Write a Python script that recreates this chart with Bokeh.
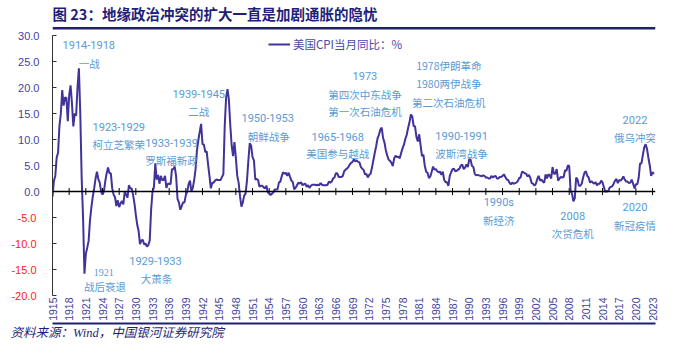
import math
from bokeh.plotting import figure
from bokeh.layouts import column
from bokeh.core.properties import value
from bokeh.models import (Range1d, FixedTicker, Span, Label, LabelSet, ColumnDataSource,
                          BoxAnnotation, CustomJSTickFormatter, LinearAxis, Title)
from bokeh.embed import file_html
from bokeh.resources import INLINE

# ---------------- data (quarterly samples) ----------------
title_text = "图 23：地缘政治冲突的扩大一直是加剧通胀的隐忧"
source_text = "资料来源：Wind，中国银河证券研究院"
series_name = "美国CPI当月同比：%"

first_year = 1915
first_month = 9          # series starts Sep 1915, one sample every 3 months
cpi_yoy = [
    -1.0, 2.0,                       # 1915
    3.0, 6.5, 7.5, 12.6,             # 1916
    15.0, 19.5, 16.5, 18.1,          # 1917
    18.0, 13.5, 18.5, 20.4,          # 1918
    17.0, 12.5, 15.0, 14.6,          # 1919
    20.0, 23.7, 15.0, 2.6,           # 1920
    -5.0, -15.8, -12.0, -10.8,       # 1921
    -9.5, -5.5, -3.0, -1.0,          # 1922
    0.6, 2.5, 3.8, 2.4,              # 1923
    1.7, 0.0, -0.6, 0.0,             # 1924
    2.0, 3.5, 4.6, 3.5,              # 1925
    3.5, 0.6, -0.6, -1.1,            # 1926
    -2.8, -1.7, -3.0, -2.3,          # 1927
    -1.8, -2.5, 0.0, -0.6,           # 1928
    -1.2, 1.2, 0.6, 0.6,             # 1929
    -0.6, -2.3, -4.5, -6.4,          # 1930
    -7.6, -10.1, -9.4, -9.3,         # 1931
    -10.2, -10.0, -10.6, -10.3,      # 1932
    -9.4, -3.5, 0.0, 0.8,            # 1933
    5.4, 2.3, 3.2, 1.5,              # 1934
    3.0, 2.2, 2.2, 3.0,              # 1935
    0.7, 1.5, 1.5, 1.4,              # 1936
    4.3, 4.3, 4.8, 2.9,              # 1937
    -1.4, -2.1, -3.5, -2.8,          # 1938
    -2.1, -2.1, -0.7, 0.0,           # 1939
    1.4, 2.1, 0.0, 0.7,              # 1940
    2.2, 4.3, 7.9, 9.9,              # 1941
    11.5, 13.0, 9.1, 9.0,            # 1942
    7.6, 7.7, 5.2, 3.0,              # 1943
    0.6, 1.7, 1.7, 2.1,              # 1944
    2.3, 2.2, 2.2, 2.2,              # 1945
    2.8, 3.3, 12.7, 18.1,            # 1946
    19.7, 17.6, 12.7, 8.8,           # 1947
    6.8, 9.5, 6.5, 3.0,              # 1948
    1.7, -0.9, -2.9, -2.1,           # 1949
    -0.8, -0.4, 2.1, 5.9,            # 1950
    9.3, 8.8, 6.6, 6.0,              # 1951
    2.3, 2.4, 2.2, 0.9,              # 1952
    1.1, 1.1, 0.8, 0.6,              # 1953
    1.1, -0.2, -0.3, -0.7,           # 1954
    -0.4, -0.2, 0.4, 0.4,            # 1955
    0.4, 1.7, 1.9, 2.9,              # 1956
    3.7, 3.4, 3.6, 3.0,              # 1957
    3.6, 2.8, 2.1, 1.8,              # 1958
    0.4, 0.7, 1.2, 1.7,              # 1959
    1.5, 1.8, 1.2, 1.4,              # 1960
    1.5, 0.9, 1.2, 0.7,              # 1961
    1.1, 1.3, 1.3, 1.3,              # 1962
    1.2, 1.3, 1.2, 1.6,              # 1963
    1.3, 1.2, 1.2, 1.2,              # 1964
    1.3, 1.9, 1.7, 1.9,              # 1965
    2.5, 2.7, 3.5, 3.5,              # 1966
    2.8, 2.8, 2.8, 3.0,              # 1967
    3.9, 4.2, 4.4, 4.7,              # 1968
    5.2, 5.5, 5.7, 6.2,              # 1969
    5.8, 6.0, 5.7, 5.6,              # 1970
    4.7, 4.4, 4.1, 3.3,              # 1971
    3.4, 2.7, 3.2, 3.4,              # 1972
    4.6, 6.0, 7.4, 8.7,              # 1973
    10.2, 10.9, 11.9, 12.3,          # 1974
    10.3, 9.4, 7.9, 6.9,             # 1975
    6.1, 5.9, 5.5, 4.9,              # 1976
    6.4, 6.9, 6.6, 6.7,              # 1977
    6.4, 7.4, 8.3, 9.0,              # 1978
    10.1, 10.9, 12.2, 13.3,          # 1979
    14.8, 14.4, 12.6, 12.5,          # 1980
    10.5, 9.6, 11.0, 8.9,            # 1981
    6.8, 7.1, 5.0, 3.8,              # 1982
    3.6, 2.6, 2.9, 3.8,              # 1983
    4.8, 4.2, 4.3, 3.9,              # 1984
    3.7, 3.8, 3.2, 3.8,              # 1985
    2.2, 1.8, 1.8, 1.1,              # 1986
    3.0, 3.7, 4.3, 4.4,              # 1987
    3.9, 4.0, 4.2, 4.4,              # 1988
    5.0, 5.2, 4.3, 4.6,              # 1989
    5.2, 4.7, 6.2, 6.1,              # 1990
    4.9, 4.7, 3.4, 3.1,              # 1991
    3.2, 3.1, 3.0, 2.9,              # 1992
    3.1, 3.0, 2.7, 2.7,              # 1993
    2.5, 2.5, 3.0, 2.7,              # 1994
    2.9, 3.0, 2.5, 2.5,              # 1995
    2.8, 2.8, 3.0, 3.3,              # 1996
    2.8, 2.3, 2.2, 1.7,              # 1997
    1.4, 1.7, 1.5, 1.6,              # 1998
    1.7, 2.0, 2.6, 2.7,              # 1999
    3.8, 3.7, 3.5, 3.4,              # 2000
    2.9, 3.2, 2.6, 1.6,              # 2001
    1.5, 1.1, 1.5, 2.4,              # 2002
    3.0, 2.1, 2.3, 1.9,              # 2003
    1.7, 3.3, 2.5, 3.3,              # 2004
    3.1, 2.5, 4.7, 3.4,              # 2005
    3.4, 4.3, 2.1, 2.5,              # 2006
    2.8, 2.7, 2.8, 4.1,              # 2007
    4.0, 5.0, 4.9, 0.1,              # 2008
    -0.4, -1.9, -1.3, 2.7,           # 2009
    2.3, 1.1, 1.1, 1.5,              # 2010
    2.7, 3.6, 3.9, 3.0,              # 2011
    2.7, 1.7, 2.0, 1.7,              # 2012
    1.5, 1.8, 1.2, 1.5,              # 2013
    1.5, 2.1, 1.7, 0.8,              # 2014
    -0.1, 0.1, 0.0, 0.7,             # 2015
    0.9, 1.0, 1.5, 2.1,              # 2016
    2.4, 1.6, 2.2, 2.1,              # 2017
    2.4, 2.9, 2.3, 1.9,              # 2018
    1.9, 1.6, 1.7, 2.3,              # 2019
    1.5, 0.6, 1.4, 1.4,              # 2020
    2.6, 5.4, 5.4, 7.0,              # 2021
    8.5, 9.1, 8.2, 6.5,              # 2022
    5.0, 3.0, 3.7, 3.4,              # 2023
]

tick_years = list(range(1915, 2024, 3))
y_ticks = [-20, -15, -10, -5, 0, 5, 10, 15, 20, 25, 30]

# event annotations: text, year position, value position
note_texts = ["1914-1918", "一战", "1923-1929", "柯立芝繁荣", "1933-1939", "罗斯福新政",
              "1939-1945", "二战", "1950-1953", "朝鲜战争", "战后衰退",
              "1929-1933", "大萧条", "1965-1968", "美国参与越战",
              "1973", "第四次中东战争", "第一次石油危机",
              "1978伊朗革命", "1980两伊战争", "第二次石油危机",
              "1990-1991", "波斯湾战争", "2022", "俄乌冲突",
              "1990s", "新经济", "2008", "次贷危机", "2020", "新冠疫情"]
note_x = [1922.2, 1922.3, 1927.6, 1927.6, 1937.1, 1937.1,
          1942.0, 1942.0, 1954.4, 1954.6, 1925.1,
          1934.2, 1934.4, 1967.0, 1967.0,
          1971.9, 1971.9, 1971.9,
          1987.0, 1987.0, 1987.0,
          1989.3, 1989.3, 2020.5, 2020.5,
          1996.0, 1996.0, 2009.3, 2009.3, 2020.5, 2020.5]
note_y = [28.1, 24.6, 12.5, 9.0, 9.4, 6.0,
          18.7, 15.3, 14.2, 10.5, -18.3,
          -13.3, -16.8, 10.5, 7.3,
          22.2, 18.7, 15.3,
          24.3, 20.8, 17.2,
          10.7, 7.3, 13.7, 10.3,
          -2.1, -5.5, -4.7, -8.0, -3.0, -6.6]
serif_note = ("1921", 1924.9, -15.6)

# ---------------- styles ----------------
W = 664
NAVY = "#1f1f78"
AXBLUE = "#3f3fa0"
NOTE = "#5b9bd5"

# ---- title strip ----
TH = 30
ft = figure(width=W, height=TH, output_backend="svg", toolbar_location=None,
            x_range=Range1d(0, W), y_range=Range1d(0, TH),
            x_axis_location=None, y_axis_location=None,
            min_border_left=0, min_border_right=0, min_border_top=0, min_border_bottom=0,
            outline_line_color=None, background_fill_color="white", border_fill_color="white")
ft.grid.visible = False
ft.add_layout(Label(x=0, y=TH - 12.5, text=title_text, text_baseline="middle",
                    text_font="Noto Sans CJK SC", text_font_style="bold",
                    text_font_size="14.5px", text_color=NAVY))
ft.add_layout(BoxAnnotation(top=TH - 26.5, bottom=TH - 29.0, fill_color=NAVY, fill_alpha=1,
                            line_color=None))

# ---- main chart ----
xs = []
for i in range(len(cpi_yoy)):
    m = first_month - 1 + 3 * i
    xs.append(first_year + (m // 12) + (m % 12) / 12.0)

X0 = first_year + (first_month - 1) / 12.0
MH = 339 - TH
p = figure(width=W, height=MH, output_backend="svg", toolbar_location=None,
           x_range=Range1d(X0, X0 + 108.53), y_range=Range1d(-20, 30),
           min_border_left=52, min_border_right=9, min_border_top=5, min_border_bottom=42,
           outline_line_color=None, background_fill_color="white", border_fill_color="white")
p.grid.visible = False

xa = p.xaxis[0]
xa.ticker = FixedTicker(ticks=[y + (first_month - 1) / 12.0 for y in tick_years])
xa.formatter = CustomJSTickFormatter(code="return Math.floor(tick + 0.01).toString()")
xa.axis_line_color = None
xa.major_tick_line_color = None
xa.minor_tick_line_color = None
xa.major_tick_in = 0
xa.major_tick_out = 0
xa.minor_tick_out = 0
xa.major_label_orientation = math.pi / 2
xa.major_label_standoff = 2
xa.major_label_text_font = "Liberation Sans"
xa.major_label_text_font_size = "10.5px"
xa.major_label_text_color = AXBLUE

# rule under the axis labels (an extra, label-less axis line)
rule = LinearAxis(ticker=FixedTicker(ticks=[]), axis_line_color=NAVY, axis_line_width=2,
                  major_tick_line_color=None, minor_tick_line_color=None,
                  major_tick_in=0, major_tick_out=0, minor_tick_in=0, minor_tick_out=0,
                  major_label_standoff=0, major_label_text_font_size="0px")
p.add_layout(rule, "below")

# source line
p.add_layout(Title(text=source_text, align="left", offset=-42, standoff=0,
                   text_font="'Liberation Serif', 'Noto Sans CJK SC'", text_font_style="italic",
                   text_font_size="12.5px", text_color=NAVY), "below")

# inner y axis: line, ticks and the positive labels (blue)
ya = p.yaxis[0]
ya.ticker = FixedTicker(ticks=y_ticks)
ya.formatter = CustomJSTickFormatter(code="return tick < 0 ? '' : tick.toFixed(1)")
ya.minor_tick_line_color = None
ya.major_tick_in = 4
ya.major_tick_out = 0
ya.major_tick_line_color = "#333333"
ya.axis_line_color = "#333333"
ya.axis_line_width = 1
ya.major_label_standoff = 13
ya.major_label_text_font = "Liberation Sans"
ya.major_label_text_font_size = "11px"
ya.major_label_text_color = AXBLUE

# outer y axis: only the negative labels (red), pulled back under the blue ones
yneg = LinearAxis(ticker=FixedTicker(ticks=y_ticks),
                  formatter=CustomJSTickFormatter(code="return tick < 0 ? tick.toFixed(1) : ''"),
                  axis_line_color=None, major_tick_line_color=None, minor_tick_line_color=None,
                  major_tick_in=0, major_tick_out=0, major_label_standoff=-21,
                  major_label_text_font="Liberation Sans", major_label_text_font_size="11px",
                  major_label_text_color="#ff2020")
p.add_layout(yneg, "left")

# zero line with its ticks
p.add_layout(Span(location=0, dimension="width", line_color="black", line_width=1.5))
p.scatter(x=[y + (first_month - 1) / 12.0 for y in tick_years], y=[0] * len(tick_years),
          marker="dash", angle=math.pi / 2, size=7, line_color="black", line_width=1)

# series
p.line(xs, cpi_yoy, line_color="#40339a", line_width=2, legend_label=series_name)
lg = p.legend[0]
lg.location = (216, 243)
lg.padding = 0
lg.margin = 0
lg.border_line_color = None
lg.background_fill_alpha = 0
lg.glyph_width = 22
lg.glyph_height = 14
lg.label_height = 14
lg.label_standoff = 3
lg.label_text_font = "Noto Sans CJK SC"
lg.label_text_font_size = "11.5px"
lg.label_text_color = "#4a4aa8"

# annotations: numeric ones in a Latin sans, the others in the CJK sans
is_num = [all(ord(c) < 128 for c in t) for t in note_texts]
num_src = ColumnDataSource(dict(x=[x for x, n in zip(note_x, is_num) if n],
                                y=[y for y, n in zip(note_y, is_num) if n],
                                t=[t for t, n in zip(note_texts, is_num) if n]))
cjk_src = ColumnDataSource(dict(x=[x for x, n in zip(note_x, is_num) if not n],
                                y=[y for y, n in zip(note_y, is_num) if not n],
                                t=[t for t, n in zip(note_texts, is_num) if not n]))
p.add_layout(LabelSet(x="x", y="y", text="t", source=num_src, text_align="center",
                      text_baseline="middle", text_font=value("Roboto"),
                      text_font_size=value("11px"), text_color=value(NOTE)))
p.add_layout(LabelSet(x="x", y="y", text="t", source=cjk_src, text_align="center",
                      text_baseline="middle", text_font=value("Noto Sans CJK SC"),
                      text_font_size=value("10.5px"), text_color=value(NOTE)))
p.add_layout(Label(x=serif_note[1], y=serif_note[2], text=serif_note[0], text_align="center",
                   text_baseline="middle", text_font="Liberation Serif",
                   text_font_size="10px", text_color=NOTE))

layout = column(ft, p, spacing=0)
open("out.html", "w").write(file_html(layout, INLINE))
